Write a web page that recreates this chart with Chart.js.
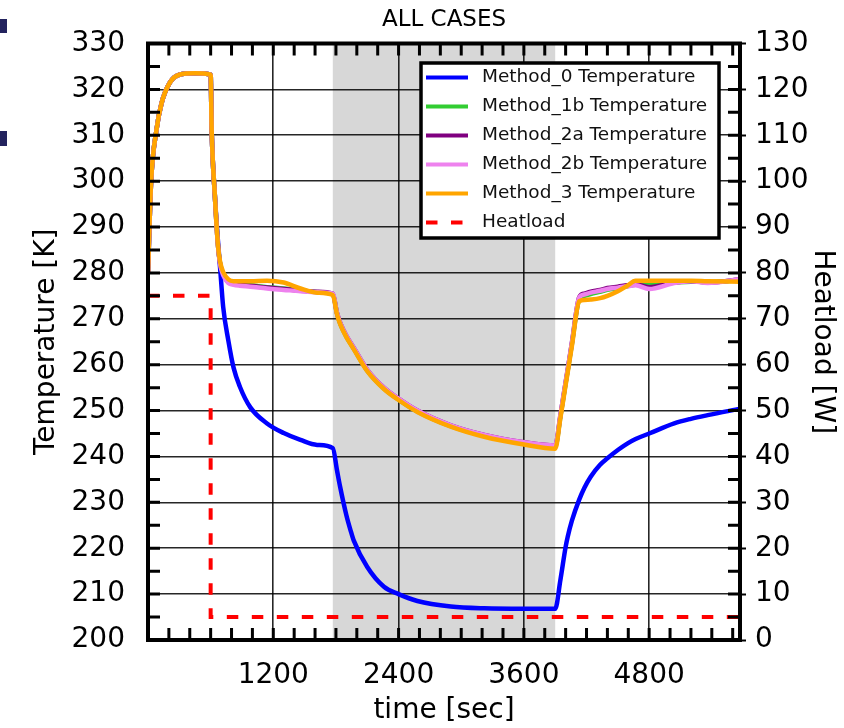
<!DOCTYPE html>
<html>
<head>
<meta charset="utf-8">
<script src="https://cdn.jsdelivr.net/npm/chart.js@4.4.1/dist/chart.umd.min.js"></script>
<style>
  html, body { margin: 0; padding: 0; background: #fff; }
  #wrap { width: 844px; height: 728px; }
</style>
</head>
<body>
<div id="wrap"><canvas id="allCases" width="844" height="728"></canvas></div>
<script>
// =========================
// DATA
// =========================
const TIMES = [0, 30, 80, 130, 210, 300, 450, 600, 610, 640, 670, 690, 720, 770, 820, 880, 980,
    1140, 1300, 1460, 1620, 1770, 1810, 1840, 1900, 1940, 1970, 2100, 2260, 2400, 2580, 2900,
    3220, 3600, 3900, 3950, 4000, 4020, 4060, 4130, 4180, 4240, 4330, 4400, 4500, 4590, 4670,
    4800, 5040, 5200, 5360, 5670];

const METHOD_0 = [280, 300, 311, 317, 321.5, 323.2, 323.5, 323.2, 311, 297, 287, 281.3, 272.6, 265.2, 259.3, 255.2, 250.7,
    247.2, 245.1, 243.6, 242.5, 241.8, 237.0, 233.4, 227.2, 223.9, 221.7, 215.9, 211.6, 210.0, 208.5, 207.3,
    206.9, 206.8, 206.8, 213.1, 220.3, 222.5, 226.0, 230.6, 233.2, 235.6, 238.2, 239.6, 241.4, 242.8, 243.8,
    245.0, 247.2, 248.2, 249.0, 250.4];

const METHOD_1B = [280, 300, 311, 317, 321.5, 323.2, 323.5, 323.2, 311, 297, 286, 282.2, 279.8, 278.0, 277.6, 277.5, 277.3,
    276.9, 276.6, 276.2, 275.8, 275.4, 271.2, 269.0, 266.1, 264.6, 263.5, 258.7, 254.8, 252.4, 249.8, 246.6,
    244.5, 242.9, 242.1, 248.7, 255.9, 258.7, 264.5, 274.2, 275.0, 275.4, 275.9, 276.3, 276.7, 277.1, 277.4,
    277.5, 277.9, 278.1, 278.0, 278.4];

const METHOD_2A = [280, 300, 311, 317, 321.5, 323.2, 323.5, 323.2, 311, 297, 286, 282.1, 279.7, 278.0, 277.6, 277.4, 277.2,
    276.8, 276.5, 276.1, 275.9, 275.5, 271.3, 269.2, 266.3, 264.8, 263.7, 258.9, 255.0, 252.6, 250.0, 246.8,
    244.7, 243.1, 242.4, 249.0, 256.2, 259.0, 264.8, 274.7, 275.5, 275.9, 276.3, 276.7, 277.0, 277.3, 277.5,
    276.9, 277.9, 278.2, 277.9, 278.6];

const METHOD_2B = [280, 300, 311, 317, 321.5, 323.2, 323.5, 323.2, 311, 297, 286, 282.0, 279.5, 277.8, 277.4, 277.2, 277.0,
    276.6, 276.3, 276.0, 275.8, 275.5, 271.3, 269.2, 266.3, 264.8, 263.7, 258.9, 255.0, 252.6, 250.0, 246.8,
    244.7, 243.1, 242.4, 249.0, 256.2, 259.0, 264.8, 274.6, 275.3, 275.7, 276.1, 276.5, 276.8, 277.1, 277.3,
    276.5, 277.8, 278.2, 277.8, 278.6];

const METHOD_3 = [280, 300, 311, 317, 321.5, 323.2, 323.5, 323.2, 311, 297, 286, 282.5, 280.2, 278.6, 278.2, 278.2, 278.2,
    278.3, 277.9, 276.6, 275.7, 275.2, 271.0, 268.9, 266.0, 264.5, 263.4, 258.6, 254.7, 252.3, 249.7, 246.5,
    244.3, 242.6, 241.7, 248.4, 255.6, 258.4, 264.1, 273.8, 274.1, 274.2, 274.5, 275.0, 276.0, 277.2, 278.3,
    278.3, 278.3, 278.3, 278.2, 278.1];

const HEAT_TIMES = [0, 600, 600, 5670];
const HEAT_LOAD = [75, 75, 5, 5];

const SHADE_FROM = 1770;
const SHADE_TO = 3900;

const X_TICKS = [1200, 2400, 3600, 4800];

// =========================
// HELPERS
// =========================
const FONT = "'DejaVu Sans', 'Noto Sans', sans-serif";
const toPoints = (xs, ys) => xs.map((x, i) => ({ x: x, y: ys[i] }));

const tempSet = (label, values, color, order) => ({
    label: label,
    data: toPoints(TIMES, values),
    borderColor: color,
    backgroundColor: color,
    borderWidth: 4.5,
    pointRadius: 0,
    cubicInterpolationMode: "monotone",
    yAxisID: "y",
    order: order
});

// =========================
// PLUGINS
// =========================
const backdrop = {
    id: "backdrop",
    beforeDraw(chart) {
        const { ctx, chartArea: a, scales } = chart;
        ctx.save();
        ctx.fillStyle = "#fff";
        ctx.fillRect(0, 0, chart.width, chart.height);
        // slide leftovers at the left edge
        ctx.fillStyle = "#23235e";
        ctx.fillRect(0, 19, 7, 14);
        ctx.fillRect(0, 131, 7, 15);
        // shaded window
        const x0 = scales.x.getPixelForValue(SHADE_FROM);
        const x1 = scales.x.getPixelForValue(SHADE_TO);
        ctx.fillStyle = "#d7d7d7";
        ctx.fillRect(x0, a.top, x1 - x0, a.bottom - a.top);
        ctx.restore();
    }
};

const frame = {
    id: "frame",
    afterDatasetsDraw(chart) {
        const { ctx, chartArea: a, scales } = chart;
        ctx.save();
        ctx.strokeStyle = "#000";
        ctx.lineWidth = 3;
        ctx.beginPath();
        for (let v = 200; v <= 330; v += 5) {
            const py = scales.y.getPixelForValue(v);
            ctx.moveTo(a.left, py); ctx.lineTo(a.left + 12, py);
            ctx.moveTo(a.right, py); ctx.lineTo(a.right - 12, py);
        }
        for (let t = 0; t <= scales.x.max; t += 200) {
            const px = scales.x.getPixelForValue(t);
            ctx.moveTo(px, a.top); ctx.lineTo(px, a.top + 12);
            ctx.moveTo(px, a.bottom); ctx.lineTo(px, a.bottom - 12);
        }
        ctx.stroke();
        ctx.lineWidth = 4;
        ctx.strokeRect(a.left, a.top, a.right - a.left, a.bottom - a.top);

        // title over the plot
        ctx.fillStyle = "#000";
        ctx.font = "23px " + FONT;
        ctx.textAlign = "center";
        ctx.textBaseline = "middle";
        ctx.fillText("ALL CASES", (a.left + a.right) / 2, 20);
        ctx.restore();
    }
};

const boxLegend = {
    id: "boxLegend",
    afterDraw(chart) {
        const { ctx, chartArea: a } = chart;
        const bw = 298, bh = 175;
        const bx = a.right - 21 - bw;
        const by = a.top + 19.5;
        ctx.save();
        ctx.fillStyle = "#fff";
        ctx.fillRect(bx, by, bw, bh);
        ctx.strokeStyle = "#000";
        ctx.lineWidth = 3.5;
        ctx.strokeRect(bx, by, bw, bh);
        ctx.font = "18.5px " + FONT;
        ctx.textAlign = "left";
        ctx.textBaseline = "middle";
        chart.data.datasets.forEach((ds, i) => {
            const y = by + 14.5 + i * 29;
            ctx.strokeStyle = ds.borderColor;
            ctx.lineWidth = 4;
            ctx.setLineDash(ds.borderDash || []);
            ctx.beginPath();
            ctx.moveTo(bx + 5, y);
            ctx.lineTo(bx + 47, y);
            ctx.stroke();
            ctx.setLineDash([]);
            ctx.fillStyle = "#111";
            ctx.fillText(ds.label, bx + 61, y);
        });
        ctx.restore();
    }
};

// =========================
// CHART
// =========================
Chart.defaults.font.family = FONT;
Chart.defaults.color = "#000";

const ctx = document.getElementById("allCases").getContext("2d");
new Chart(ctx, {
    type: "line",
    data: {
        datasets: [
            tempSet("Method_0 Temperature", METHOD_0, "#0000ff", 6),
            tempSet("Method_1b Temperature", METHOD_1B, "#32cd32", 5),
            tempSet("Method_2a Temperature", METHOD_2A, "#800080", 4),
            tempSet("Method_2b Temperature", METHOD_2B, "#ee82ee", 3),
            tempSet("Method_3 Temperature", METHOD_3, "#ffa500", 2),
            {
                label: "Heatload",
                data: toPoints(HEAT_TIMES, HEAT_LOAD),
                borderColor: "#ff0000",
                backgroundColor: "#ff0000",
                borderWidth: 4,
                borderDash: [11.5, 13.5],
                pointRadius: 0,
                tension: 0,
                yAxisID: "y2",
                order: 1
            }
        ]
    },
    options: {
        responsive: false,
        animation: false,
        layout: { padding: { top: 43.5, left: 0, right: 0, bottom: 0 } },
        plugins: {
            legend: { display: false },
            title: { display: false },
            tooltip: { enabled: false }
        },
        scales: {
            x: {
                type: "linear",
                min: 0,
                max: 5670,
                afterBuildTicks: scale => { scale.ticks = X_TICKS.map(v => ({ value: v })); },
                afterFit: scale => { scale.height = 88; },
                ticks: {
                    font: { size: 28 },
                    padding: 19,
                    maxRotation: 0,
                    callback: v => String(v)
                },
                grid: { color: "rgba(0,0,0,0.85)", lineWidth: 1.6, drawTicks: false },
                border: { display: false },
                title: {
                    display: true,
                    text: "time [sec]",
                    font: { size: 28 },
                    padding: { top: 0, bottom: 0 }
                }
            },
            y: {
                position: "left",
                min: 200,
                max: 330,
                afterFit: scale => { scale.width = 148; },
                ticks: { stepSize: 10, font: { size: 28 }, padding: 23 },
                grid: { color: "rgba(0,0,0,0.85)", lineWidth: 1.6, drawTicks: false },
                border: { display: false },
                title: {
                    display: true,
                    text: "Temperature [K]",
                    font: { size: 28 },
                    padding: { top: 30, bottom: 0 }
                }
            },
            y2: {
                position: "right",
                min: 0,
                max: 130,
                afterFit: scale => { scale.width = 104; },
                ticks: { stepSize: 10, font: { size: 28 }, padding: 9 },
                grid: { drawOnChartArea: false, drawTicks: true, tickLength: 6, tickWidth: 2, tickColor: "#000" },
                border: { display: false },
                title: {
                    display: true,
                    text: "Heatload [W]",
                    font: { size: 28 },
                    padding: { top: 5, bottom: 0 }
                }
            }
        }
    },
    plugins: [backdrop, frame, boxLegend]
});
</script>
</body>
</html>
